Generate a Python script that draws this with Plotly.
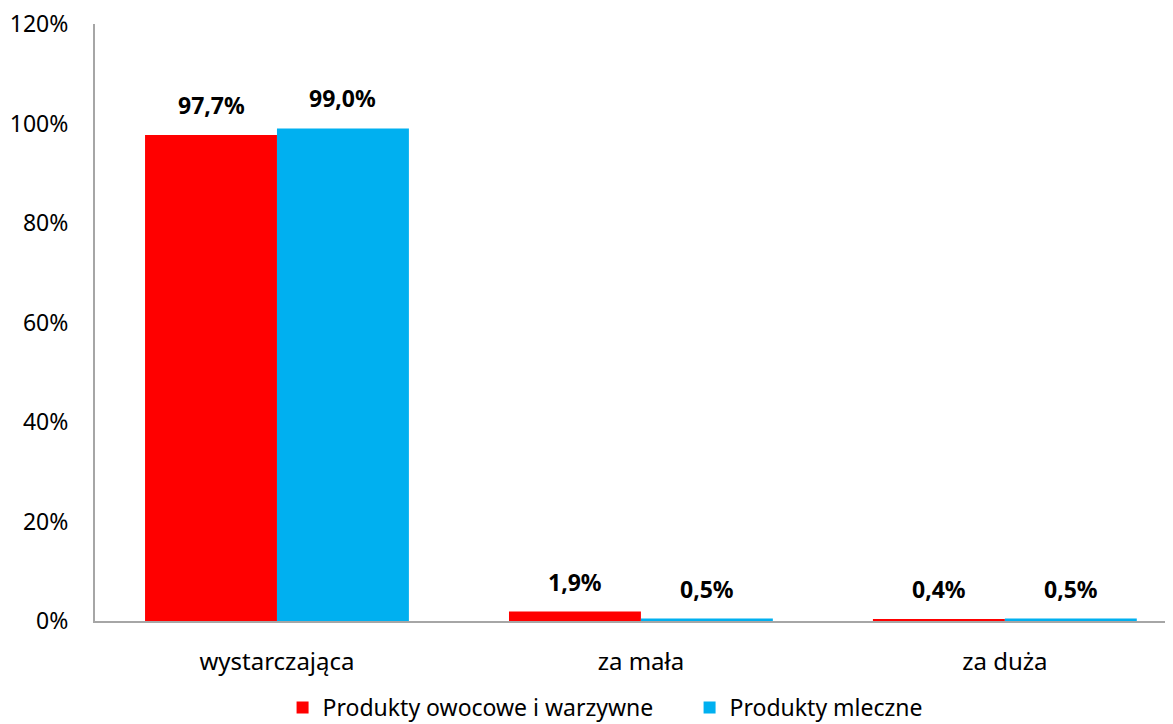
import plotly.graph_objects as go

categories = ["wystarczająca", "za mała", "za duża"]
series_names = ["Produkty owocowe i warzywne", "Produkty mleczne"]
fruit_veg = [97.7, 1.9, 0.4]
dairy = [99.0, 0.5, 0.5]
colors = ["#FF0000", "#00B0F0"]
y_ticks = [0, 20, 40, 60, 80, 100, 120]
y_ticklabels = ["0%", "20%", "40%", "60%", "80%", "100%", "120%"]

FONT = "Noto Sans"
bargap = 0.275
bar_w = (1 - bargap) / 2

def fmt(v):
    return f"{v:.1f}".replace(".", ",") + "%"

fig = go.Figure()
for name, vals, col in zip(series_names, [fruit_veg, dairy], colors):
    fig.add_trace(go.Bar(x=categories, y=vals, name=name, marker=dict(color=col, line=dict(width=0))))

for s, vals in enumerate([fruit_veg, dairy]):
    off = (s - 0.5) * bar_w
    for i, v in enumerate(vals):
        fig.add_annotation(x=i + off, y=v, text="<b>" + fmt(v) + "</b>", showarrow=False,
                           yanchor="bottom", yshift=12, font=dict(family=FONT, size=23, color="black"))

# page body has an 8px default margin, so the figure is sized to fit the 1173x724 window
fig.update_layout(
    width=1165, height=716,
    margin=dict(l=87, r=0, t=16, b=103, autoexpand=False),
    paper_bgcolor="white", plot_bgcolor="white",
    barmode="group", bargap=bargap, bargroupgap=0,
    font=dict(family=FONT, size=24, color="black"),
    showlegend=True,
    legend=dict(orientation="h", x=0.174, xanchor="left", y=-0.145, yanchor="middle",
                font=dict(family=FONT, size=23, color="black"), entrywidth=362, entrywidthmode="pixels"),
)
fig.update_xaxes(range=[-0.5, 2.462], showline=True, linecolor="#A6A6A6", linewidth=2, automargin=False,
                 showgrid=False, ticks="", ticklabelstandoff=18, tickfont=dict(family=FONT, size=24))
fig.update_yaxes(range=[0, 120], tickvals=y_ticks, ticktext=y_ticklabels, showline=True, automargin=False,
                 linecolor="#A6A6A6", linewidth=2, showgrid=False, zeroline=False, ticks="",
                 ticklabeloverflow="allow", ticklabelstandoff=20, tickfont=dict(family=FONT, size=23))

fig.write_html("out.html")
